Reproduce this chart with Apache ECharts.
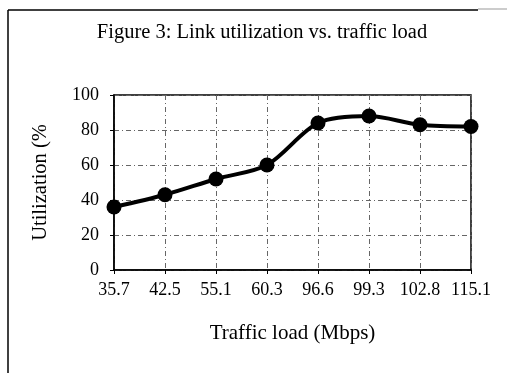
<!DOCTYPE html>
<html>
<head>
<meta charset="utf-8">
<script src="https://cdn.jsdelivr.net/npm/echarts@6/dist/echarts.min.js"></script>
<style>
  html, body { margin: 0; padding: 0; background: #fff; }
  #chart { width: 507px; height: 373px; }
</style>
</head>
<body>
<div id="chart"></div>
<script>
// Traffic load categories (Mbps) and measured link utilization (%)
const loads = ['35.7', '42.5', '55.1', '60.3', '96.6', '99.3', '102.8', '115.1'];
const utilization = [36, 43, 52, 60, 84, 88, 83, 82];
const yTicks = [0, 20, 40, 60, 80, 100];

const serif = 'Liberation Serif, Times New Roman, serif';
const chart = echarts.init(document.getElementById('chart'), null, { renderer: 'canvas' });

chart.setOption({
  backgroundColor: '#fff',
  animation: false,
  title: {
    text: 'Figure 3: Link utilization vs. traffic load',
    left: 257,
    top: 17,
    textAlign: 'center',
    textStyle: { fontFamily: serif, fontSize: 20.5, fontWeight: 'normal', color: '#000' }
  },
  graphic: [
    // outer figure frame (top and left edges)
    { type: 'line', shape: { x1: 8, y1: 10, x2: 478, y2: 10 }, style: { stroke: '#000', lineWidth: 1.5 } },
    { type: 'line', shape: { x1: 478, y1: 9, x2: 507, y2: 9 }, style: { stroke: '#999', lineWidth: 1 } },
    { type: 'line', shape: { x1: 8, y1: 10, x2: 8, y2: 373 }, style: { stroke: '#000', lineWidth: 1.5 } }
  ],
  grid: { left: 114, right: 36, top: 95, bottom: 103, show: true, borderColor: '#000', borderWidth: 1.5 },
  xAxis: {
    type: 'category',
    data: loads,
    boundaryGap: false,
    name: 'Traffic load (Mbps)',
    nameLocation: 'middle',
    nameGap: 53,
    nameTextStyle: { fontFamily: serif, fontSize: 21, color: '#000', verticalAlign: 'top' },
    axisLine: { lineStyle: { color: '#000', width: 1.5 } },
    axisTick: { show: true, inside: false, length: 4, alignWithLabel: true, lineStyle: { color: '#000' } },
    axisLabel: { fontFamily: serif, fontSize: 18, color: '#000', margin: 11, interval: 0 },
    splitLine: { show: true, lineStyle: { color: '#666', width: 1, type: [5, 3, 1, 3] } }
  },
  yAxis: {
    type: 'value',
    min: yTicks[0],
    max: yTicks[yTicks.length - 1],
    interval: yTicks[1] - yTicks[0],
    name: 'Utilization (%',
    nameLocation: 'middle',
    nameGap: 63,
    nameRotate: 90,
    nameTextStyle: { fontFamily: serif, fontSize: 20.5, color: '#000' },
    axisLine: { show: true, lineStyle: { color: '#000', width: 1.5 } },
    axisTick: { show: true, inside: false, length: 4, lineStyle: { color: '#000' } },
    axisLabel: { fontFamily: serif, fontSize: 18, color: '#000', margin: 15 },
    splitLine: { show: true, lineStyle: { color: '#666', width: 1, type: [5, 3, 1, 3] } }
  },
  series: [{
    type: 'line',
    data: utilization,
    smooth: 0.3,
    symbol: 'circle',
    symbolSize: 15,
    lineStyle: { color: '#000', width: 4 },
    itemStyle: { color: '#000' }
  }]
});
</script>
</body>
</html>
